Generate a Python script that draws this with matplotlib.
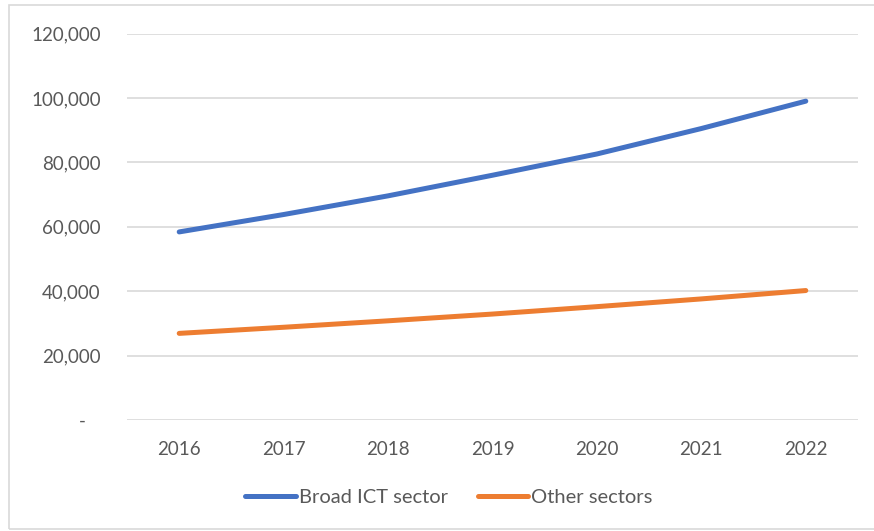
import numpy as np
import matplotlib
matplotlib.use("Agg")
import matplotlib.pyplot as plt
from matplotlib.patches import Rectangle

years = ["2016", "2017", "2018", "2019", "2020", "2021", "2022"]
broad_ict = [58400, 63800, 69600, 76000, 82600, 90500, 99000]
other_sectors = [26900, 28800, 30800, 32900, 35200, 37600, 40200]
y_ticks = [0, 20000, 40000, 60000, 80000, 100000, 120000]
y_tick_labels = ["-   ", "20,000", "40,000", "60,000", "80,000", "100,000", "120,000"]

plt.rcParams["font.family"] = ["Lato", "DejaVu Sans"]
text_grey = "#595959"

fig = plt.figure(figsize=(8.74, 5.31), dpi=100)
ax = fig.add_axes([0.1453, 0.209, 0.9817 - 0.1453, 0.9369 - 0.209])

x = np.arange(len(years))
ax.plot(x, broad_ict, color="#4472C4", lw=3.6, solid_capstyle="round",
        label="Broad ICT sector", zorder=3)
ax.plot(x, other_sectors, color="#ED7D31", lw=3.6, solid_capstyle="round",
        label="Other sectors", zorder=3)

ax.set_xlim(-0.5, len(years) - 0.5)
ax.set_ylim(0, 120000)
ax.set_xticks(x)
ax.set_xticklabels(years)
ax.set_yticks(y_ticks)
ax.set_yticklabels(y_tick_labels)
ax.tick_params(axis="x", length=0, pad=15, labelsize=13.5, colors=text_grey)
ax.tick_params(axis="y", length=0, pad=19, labelsize=13.5, colors=text_grey)

ax.grid(axis="y", color="#D9D9D9", lw=1.2, zorder=0)
for s in ax.spines.values():
    s.set_visible(False)

# chart area frame
fig.patches.append(Rectangle((9 / 874, 2 / 531), 1.0, 1 - 7 / 531,
                             transform=fig.transFigure, fill=False,
                             edgecolor="#D9D9D9", lw=1.2))

fig.legend(loc="center", bbox_to_anchor=(0.5137, 0.064), ncol=2,
           frameon=False, fontsize=14.5, labelcolor=text_grey,
           handlelength=2.5, handletextpad=0.15, columnspacing=1.5)

fig.savefig("out.png", dpi=100)
